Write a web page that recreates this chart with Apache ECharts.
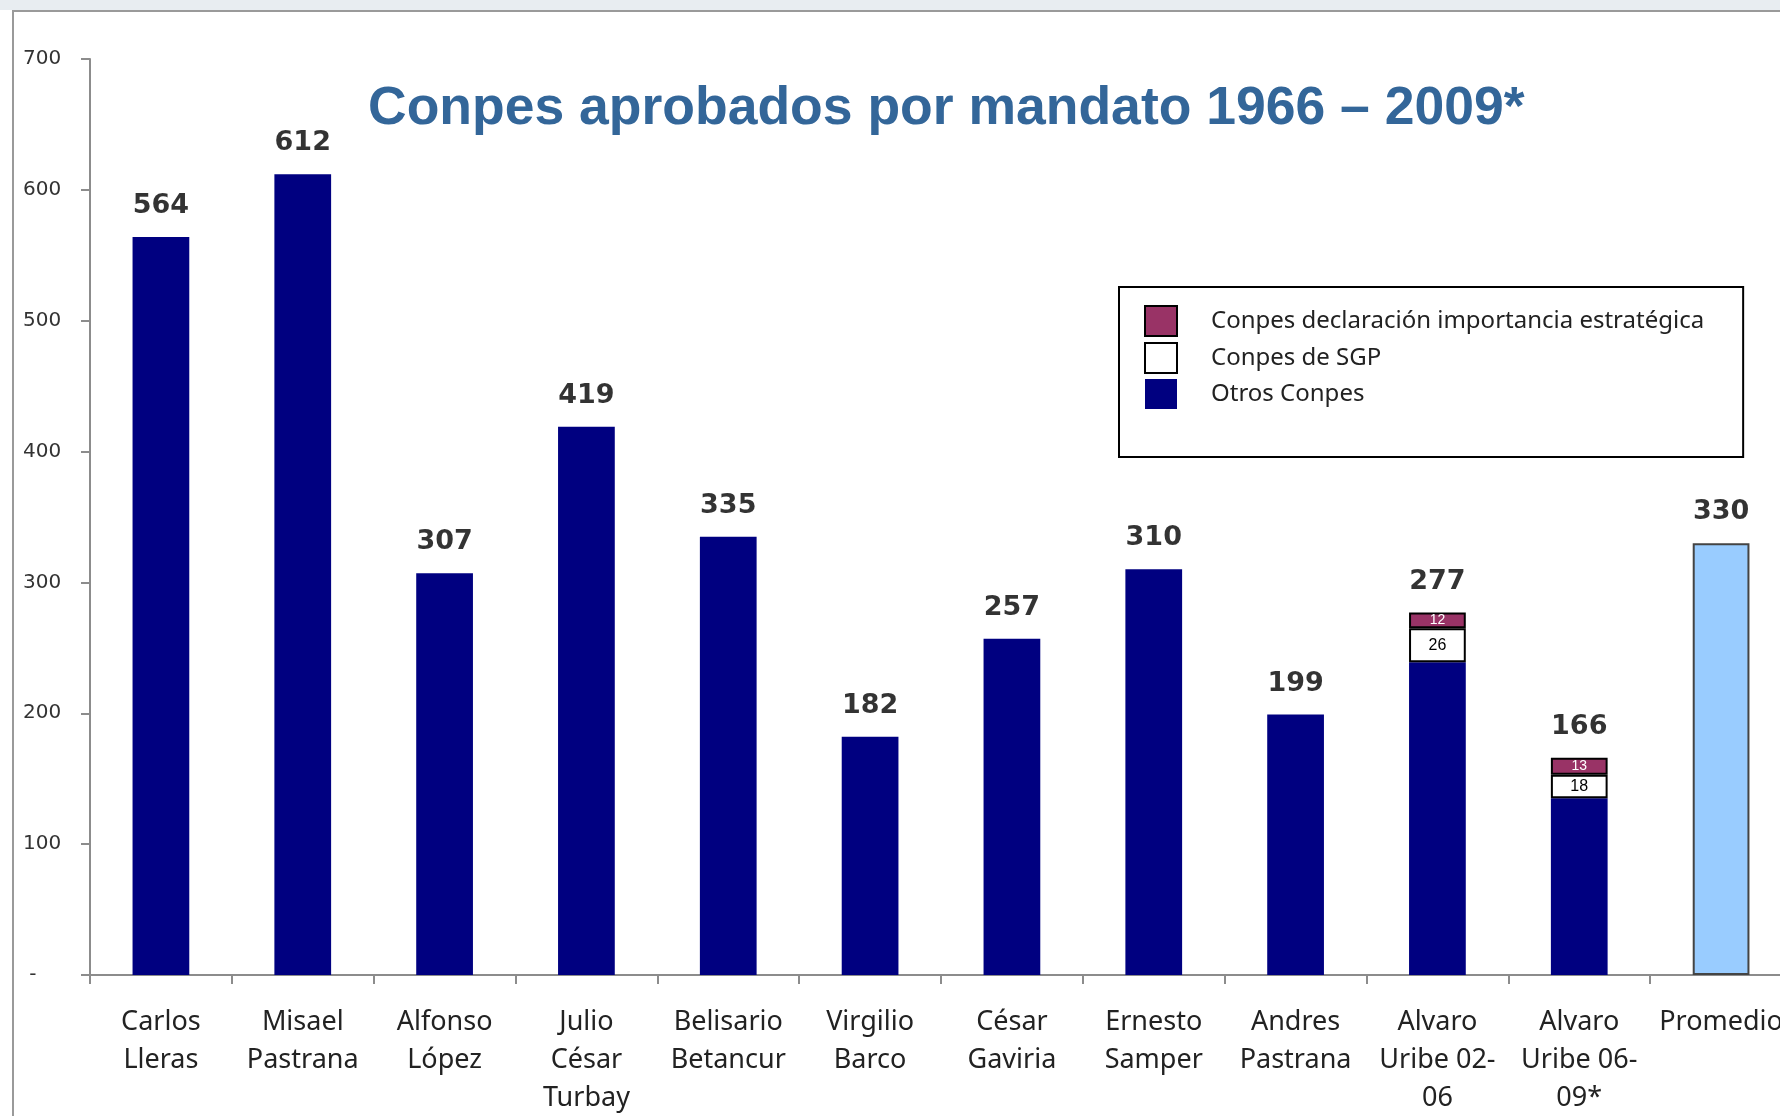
<!DOCTYPE html>
<html>
<head>
<meta charset="utf-8">
<title>Conpes aprobados por mandato</title>
<script src="https://cdn.jsdelivr.net/npm/echarts@6/dist/echarts.min.js"></script>
<style>
  html, body { margin: 0; padding: 0; background: #fff; }
  #main { width: 1780px; height: 1116px; }
</style>
</head>
<body>
<div id="main"></div>
<script>
// mandatos (el salto de linea es como aparece en el eje)
var mandatos = [
    'Carlos\nLleras', 'Misael\nPastrana', 'Alfonso\nLópez', 'Julio\nCésar\nTurbay',
    'Belisario\nBetancur', 'Virgilio\nBarco', 'César\nGaviria', 'Ernesto\nSamper',
    'Andres\nPastrana', 'Alvaro\nUribe 02-\n06', 'Alvaro\nUribe 06-\n09*', 'Promedio'
];
var otrosConpes = [564, 612, 307, 419, 335, 182, 257, 310, 199, 239, 135, '-'];
var conpesSGP = ['-', '-', '-', '-', '-', '-', '-', '-', '-', 26, 18, '-'];
var conpesEstrategica = ['-', '-', '-', '-', '-', '-', '-', '-', '-', 12, 13, '-'];
var promedio = ['-', '-', '-', '-', '-', '-', '-', '-', '-', '-', '-', 330];
var totales = [564, 612, 307, 419, 335, 182, 257, 310, 199, 277, 166, 330];

var myChart = echarts.init(document.getElementById('main'));

var option = {
    backgroundColor: '#ffffff',
    animation: false,
    textStyle: {
        fontFamily: 'Noto Sans'
    },
    title: {
        text: 'Conpes aprobados por mandato 1966 – 2009*',
        left: 363,
        top: 77,
        textStyle: {
            fontFamily: 'Liberation Sans',
            fontWeight: 'bold',
            fontSize: 53.5,
            color: '#336699'
        }
    },
    graphic: [
        // franja superior y marco gris del cuadro
        { type: 'rect', shape: { x: 0, y: 0, width: 1780, height: 10 }, style: { fill: '#e8edf1' }, silent: true },
        { type: 'rect', shape: { x: 13, y: 11, width: 1800, height: 1130 }, style: { fill: 'none', stroke: '#9a9a9a', lineWidth: 2 }, silent: true }
    ],
    legend: {
        data: ['Conpes declaración importancia estratégica', 'Conpes de SGP', 'Otros Conpes'],
        orient: 'vertical',
        left: 1119,
        top: 287,
        icon: 'rect',
        itemWidth: 32,
        itemHeight: 30,
        itemGap: 5,
        padding: [18, 39, 48, 25],
        borderColor: '#000000',
        borderWidth: 2,
        backgroundColor: '#ffffff',
        selectedMode: false,
        textStyle: {
            fontFamily: 'Noto Sans',
            fontSize: 24,
            color: '#222222',
            padding: [0, 0, 0, 29]
        }
    },
    grid: {
        left: 90,
        top: 59,
        width: 1702,
        height: 916,
        outerBoundsMode: 'none'
    },
    xAxis: {
        type: 'category',
        data: mandatos,
        axisLine: { lineStyle: { color: '#8c8c8c', width: 2 } },
        axisTick: { show: true, length: 9, lineStyle: { color: '#8c8c8c', width: 2 } },
        axisLabel: {
            interval: 0,
            margin: 28,
            fontSize: 27,
            lineHeight: 38,
            color: '#222222'
        }
    },
    yAxis: {
        type: 'value',
        min: 0,
        max: 700,
        interval: 100,
        splitLine: { show: false },
        axisLine: { show: true, lineStyle: { color: '#8c8c8c', width: 2 } },
        axisTick: { show: true, length: 9, lineStyle: { color: '#8c8c8c', width: 2 } },
        axisLabel: {
            align: 'left',
            margin: 67,
            fontFamily: 'DejaVu Sans',
            fontSize: 20,
            color: '#333333',
            formatter: function (v) {
                return v === 0 ? ' -' : String(v);
            }
        }
    },
    series: [
        {
            name: 'Otros Conpes',
            type: 'bar',
            stack: 'total',
            barWidth: '40%',
            data: otrosConpes,
            itemStyle: { color: '#000080' }
        },
        {
            name: 'Conpes de SGP',
            type: 'bar',
            stack: 'total',
            data: conpesSGP,
            itemStyle: { color: '#ffffff', borderColor: '#000000', borderWidth: 2 },
            label: {
                show: true,
                position: 'inside',
                fontFamily: 'Liberation Sans',
                fontSize: 16,
                color: '#000000'
            }
        },
        {
            name: 'Conpes declaración importancia estratégica',
            type: 'bar',
            stack: 'total',
            data: conpesEstrategica,
            itemStyle: { color: '#993366', borderColor: '#000000', borderWidth: 2 },
            label: {
                show: true,
                position: 'inside',
                fontFamily: 'Liberation Sans',
                fontSize: 14,
                color: '#ffffff'
            }
        },
        {
            name: 'Promedio',
            type: 'bar',
            stack: 'total',
            data: promedio,
            itemStyle: { color: '#99ccff', borderColor: '#444444', borderWidth: 2 }
        },
        {
            name: 'Total',
            type: 'scatter',
            data: totales,
            symbolSize: 1,
            silent: true,
            itemStyle: { color: 'transparent' },
            label: {
                show: true,
                position: 'top',
                distance: 17,
                fontFamily: 'DejaVu Sans',
                fontWeight: 'bold',
                fontSize: 27,
                color: '#000000'
            }
        }
    ]
};

myChart.setOption(option);
</script>
</body>
</html>
